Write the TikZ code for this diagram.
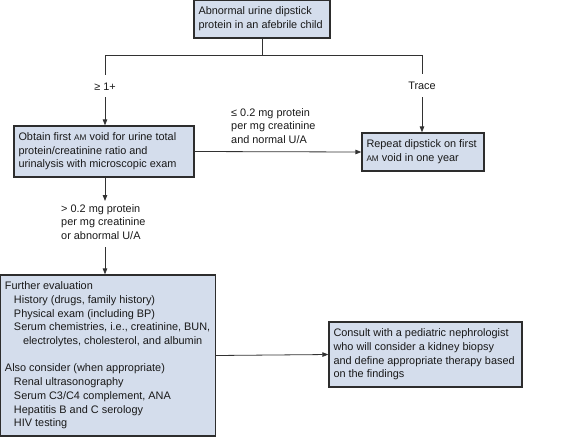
\documentclass[tikz,border=0pt]{standalone}
\usepackage{fontspec}
\setmainfont{Liberation Sans}
\usetikzlibrary{arrows.meta}
\definecolor{boxfill}{RGB}{212,221,236}
\definecolor{boxline}{RGB}{45,45,45}
\definecolor{conn}{RGB}{50,50,50}
\newcommand{\smAM}{{\fontsize{8.2}{8}\selectfont AM}}
\newcommand{\boxtext}[2]{\makebox[#1][l]{\begin{tabular}{@{}l@{}}#2\end{tabular}}}
\begin{document}
\begin{tikzpicture}[x=1pt,y=-1pt,
  every node/.style={font=\fontsize{10.9}{13.7}\selectfont, text=black!90},
  flowbox/.style={draw=boxline, fill=boxfill, line width=1.3pt,
     inner xsep=4.5pt, inner ysep=3pt},
  lbl/.style={align=left, inner sep=0pt},
  arr/.style={draw=conn, line width=0.8pt, -{Triangle[length=6pt,width=4.5pt]}},
  ln/.style={draw=conn, line width=0.8pt}]
\useasboundingbox (0,0) rectangle (580,437);

\node[flowbox, minimum width=136pt, minimum height=38pt] (top) at (262,19)
  {\boxtext{127pt}{Abnormal urine dipstick\\protein in an afebrile child}};

\node[flowbox, minimum width=180pt, minimum height=51pt] (left) at (104,151.5)
  {\boxtext{171pt}{Obtain first \smAM{} void for urine total\\protein/creatinine ratio and\\urinalysis with microscopic exam}};

\node[flowbox, minimum width=122pt, minimum height=38pt] (right) at (423,152)
  {\boxtext{113pt}{Repeat dipstick on first\\\smAM{} void in one year}};

\node[flowbox, minimum width=215pt, minimum height=161pt] (eval) at (108,355.5)
  {\boxtext{206pt}{Further evaluation\\
   \hspace*{9pt}History (drugs, family history)\\
   \hspace*{9pt}Physical exam (including BP)\\
   \hspace*{9pt}Serum chemistries, i.e., creatinine, BUN,\\
   \hspace*{18pt}electrolytes, cholesterol, and albumin\\[13.7pt]
   Also consider (when appropriate)\\
   \hspace*{9pt}Renal ultrasonography\\
   \hspace*{9pt}Serum C3/C4 complement, ANA\\
   \hspace*{9pt}Hepatitis B and C serology\\
   \hspace*{9pt}HIV testing}};

\node[flowbox, minimum width=193pt, minimum height=65pt] (consult) at (425.5,354.5)
  {\boxtext{184pt}{Consult with a pediatric nephrologist\\who will consider a kidney biopsy\\and define appropriate therapy based\\on the findings}};

% labels
\node[lbl] (ge) at (105,87) {≥ 1+};
\node[lbl] (tr) at (422,85.5) {Trace};
\node[lbl, anchor=west] (le) at (231,126) {≤ 0.2 mg protein\\per mg creatinine\\and normal U/A};
\node[lbl, anchor=west] (gt) at (61,222) {> 0.2 mg protein\\per mg creatinine\\or abnormal U/A};

% junction coordinates
\coordinate (j) at (262,55);
\coordinate (jl) at (105,55);
\coordinate (jr) at (422,55);
\coordinate (jl2) at (105,75);
\coordinate (jl3) at (105,97);
\coordinate (jr2) at (422,74);
\coordinate (jr3) at (422,97);
\coordinate (g1) at (105,201);
\coordinate (g2) at (105,247);

\draw[ln] (top.south) -- (j);
\draw[ln] (jl) -- (jr);
\draw[ln] (jl) -- (jl2);
\draw[arr] (jl3) -- (jl3 |- left.north);
\draw[ln] (jr) -- (jr2);
\draw[arr] (jr3) -- (jr3 |- right.north);
\draw[arr] (left.east) -- (right.west);
\draw[arr] (left.south -| g1) -- (g1);
\draw[arr] (g2) -- (g2 |- eval.north);
\draw[arr] (eval.east) -- (consult.west);
\end{tikzpicture}
\end{document}
